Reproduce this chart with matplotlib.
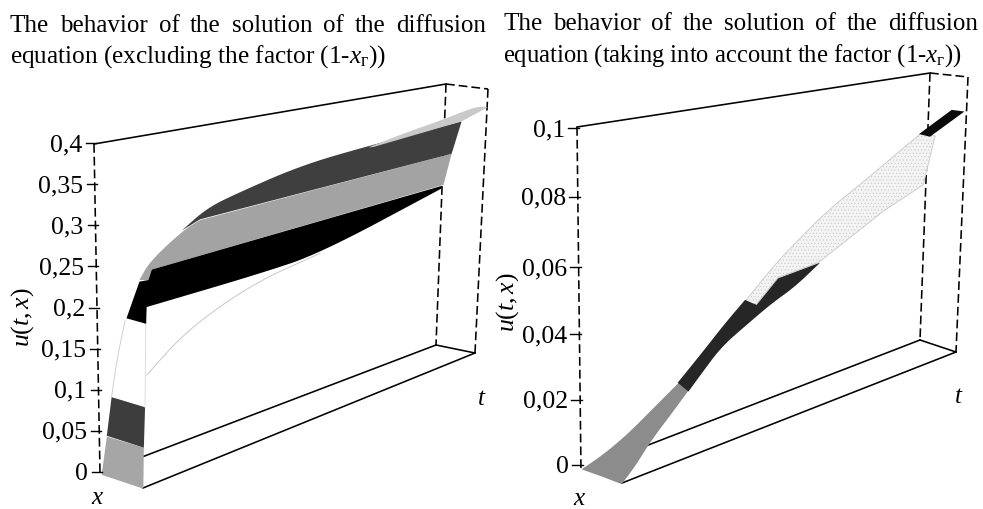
import numpy as np
from matplotlib import pyplot as plt
from matplotlib.patches import Polygon

plt.rcParams['font.family'] = ['Liberation Serif', 'DejaVu Serif']
plt.rcParams['mathtext.fontset'] = 'custom'
plt.rcParams['mathtext.rm'] = 'Liberation Serif'
plt.rcParams['mathtext.it'] = 'Liberation Serif:italic'
plt.rcParams['hatch.linewidth'] = 0.4

# left surface, bands (t, x, u)
l_gray_t = [0.005, 0.022, 0.004, 0.001]
l_gray_x = [0, 0, 1, 1]
l_gray_u = [-0.003, 0.041, 0.048, -0.001]
l_dark_t = [0.022, 0.038, 0.009, 0.004]
l_dark_x = [0, 0, 1, 1]
l_dark_u = [0.042, 0.087, 0.096, 0.048]
l_edge1_t = [0.038, 0.055, 0.081]
l_edge1_x = [0, 0, 0]
l_edge1_u = [0.087, 0.130, 0.176]
l_edge2_t = [0.009, 0.014]
l_edge2_x = [1, 1]
l_edge2_u = [0.096, 0.197]
l_black_t = [0.085, 0.124, 0.150, 0.160, 0.999, 0.878, 0.525, 0.349, 0.017, 0.015]
l_black_x = [0, 0, 0, 0, 0, 1, 1, 1, 1, 1]
l_black_u = [0.178, 0.219, 0.218, 0.230, 0.244, 0.266, 0.221, 0.217, 0.216, 0.196]
l_gray2_t = [0.124, 0.155, 0.252, 0.300, 0.994, 1.004, 0.160, 0.150]
l_gray2_x = [0, 0, 0, 0, .25, 0, 0, 0]
l_gray2_u = [0.221, 0.241, 0.270, 0.278, 0.296, 0.245, 0.230, 0.218]
l_dark2_t = [0.247, 0.319, 0.396, 0.587, 0.778, 0.995, 0.994, 0.300]
l_dark2_x = [0, 0, 0, 0, 0, .45, .25, 0]
l_dark2_u = [0.270, 0.291, 0.301, 0.321, 0.329, 0.347, 0.296, 0.279]
l_light_t = [0.783, 0.873, 0.996, 0.978, 0.979, 1.001, 0.995, 0.797]
l_light_x = [0, 0, 0, .7, 1, 1, .45, 0]
l_light_u = [0.327, 0.336, 0.346, 0.368, 0.376, 0.372, 0.347, 0.326]
l_curve_t = [0.015, 0.134, 0.330, 0.525]
l_curve_x = [1, 1, 1, 1]
l_curve_u = [0.134, 0.173, 0.207, 0.221]

# right surface
r_gray_t = [0.002, 0.071, 0.140, 0.209, 0.287, 0.199, 0.149, 0.089, 0.039, -0.001, 0.001]
r_gray_x = [0, 0, 0, 0, 0, 1, 1, 1, 1, 1, .5]
r_gray_u = [0.0004, 0.0025, 0.0058, 0.0103, 0.0156, 0.0200, 0.0149, 0.0092, 0.0033, -0.0003, 0.0001]
r_dark_t = [0.285, 0.355, 0.423, 0.481, 0.515, 0.577, 0.585, 0.512, 0.444, 0.376, 0.297, 0.238, 0.199]
r_dark_x = [0, 0, 0, 0, 0, 0, 1, 1, 1, 1, 1, 1, 1]
r_dark_u = [0.0158, 0.0225, 0.0296, 0.0352, 0.0324, 0.0391, 0.0472, 0.0417, 0.0386, 0.0346, 0.0300, 0.0238, 0.0197]
r_light_t = [0.483, 0.558, 0.624, 0.719, 0.814, 0.908, 0.978, 0.978, 0.882, 0.772, 0.580, 0.577, 0.510]
r_light_x = [0, 0, 0, 0, 0, 0, 0, .4, 1, 1, 1, 0, 0]
r_light_u = [0.0349, 0.0431, 0.0493, 0.0578, 0.0644, 0.0719, 0.0777, 0.0779, 0.0644, 0.0590, 0.0474, 0.0394, 0.0322]
r_black_t = [0.975, 0.979, 0.994, 0.974]
r_black_x = [0, .8, 1, .3]
r_black_u = [0.0778, 0.0882, 0.0876, 0.0775]

l_ticks = ['0', '0,05', '0,1', '0,15', '0,2', '0,25', '0,3', '0,35', '0,4']
l_tick_vals = [0, 0.05, 0.1, 0.15, 0.2, 0.25, 0.3, 0.35, 0.4]
r_ticks = ['0', '0,02', '0,04', '0,06', '0,08', '0,1']
r_tick_vals = [0.0015, 0.0204, 0.0395, 0.059, 0.0794, 0.0994]  # the printed scale is not quite even

# box corners on the page
l_box = {(0, 0, 0): (100, 473), (0, 1, 0): (143, 488), (1, 0, 0): (436, 345), (1, 1, 0): (475, 353),
         (0, 0, 1): (94, 144), (0, 1, 1): (139, 156), (1, 0, 1): (446, 84), (1, 1, 1): (488, 89)}
r_box = {(0, 0, 0): (581, 471), (0, 1, 0): (622, 483), (1, 0, 0): (920, 340), (1, 1, 0): (956, 352),
         (0, 0, 1): (577, 127), (0, 1, 1): (619, 137), (1, 0, 1): (930, 73), (1, 1, 1): (968, 77)}


def project(box, umax, t, x, u):
    w = u/umax
    px, py = 0, 0
    for (a, b, c), v in box.items():
        k = (t if a else 1-t)*(x if b else 1-x)*(w if c else 1-w)
        px += k*v[0]
        py += k*v[1]
    return px, py


def chaikin(pts, n=3):
    # rounds the corners of a polyline, ends stay put
    pts = np.asarray(pts, dtype=float)
    for _ in range(n):
        new = [pts[0]]
        for p, q in zip(pts[:-1], pts[1:]):
            new += [0.75*p+0.25*q, 0.25*p+0.75*q]
        new.append(pts[-1])
        pts = np.array(new)
    return pts


def band(ax, box, umax, t, x, u, soft=(), **kw):
    pts = [project(box, umax, a, b, c) for a, b, c in zip(t, x, u)]
    out = []
    i = 0
    for a, b in soft:
        out += pts[i:a]
        out += list(chaikin(pts[a:b+1]))
        i = b+1
    out += pts[i:]
    ax.add_patch(Polygon(np.array(out), closed=True, **kw))


def curve(ax, box, umax, t, x, u, **kw):
    pts = chaikin([project(box, umax, a, b, c) for a, b, c in zip(t, x, u)])
    ax.plot(pts[:, 0], pts[:, 1], **kw)


def frame(ax, box, umax, floor_start):
    def p(t, x, w):
        return project(box, umax, t, x, w*umax)

    def seg(a, b, dashed):
        ls = (0, (5.5, 2.5)) if dashed else '-'
        ax.plot([a[0], b[0]], [a[1], b[1]], color='k', lw=1.15, ls=ls, zorder=1)

    seg(p(0, 0, 1), p(1, 0, 1), False)
    seg(p(1, 0, 1), p(1, 1, 1), True)
    seg(p(1, 1, 1), p(1, 1, 0), True)
    seg(p(1, 0, 1), p(1, 0, 0), True)
    seg(p(0, 0, 1), p(0, 0, 0), True)
    seg(p(1, 0, 0), p(1, 1, 0), False)
    seg(p(0, 1, 0), p(1, 1, 0), False)
    seg(p(floor_start, 0, 0), p(1, 0, 0), False)


def yticks(ax, box, umax, vals, labels, length, gap):
    for v, s in zip(vals, labels):
        px, py = project(box, umax, 0, 0, v)
        ax.plot([px-length, px+2], [py-1, py-1], color='k', lw=1.0, zorder=4)
        ax.text(px-length-gap, py+1, s, ha='right', va='center', fontsize=18.5)


def justified(ax, fig, line, x0, x1, y, size):
    words = line.split()
    r = fig.canvas.get_renderer()
    items = [ax.text(0, y, w, fontsize=size, va='baseline', ha='left') for w in words]
    widths = [i.get_window_extent(r).width for i in items]
    space = (x1-x0-sum(widths))/(len(words)-1)
    pos = x0
    for i, w in zip(items, widths):
        i.set_x(pos)
        pos += w+space


fig = plt.figure(figsize=(9.83, 5.09), dpi=100)
ax = fig.add_axes([0, 0, 1, 1])
ax.set_xlim(0, 983)
ax.set_ylim(509, 0)
ax.axis('off')

# left panel
L = (ax, l_box, 0.4)
frame(ax, l_box, 0.4, 0.02)
band(*L, l_gray_t, l_gray_x, l_gray_u, fc='#a6a6a6', ec='none', zorder=2)
band(*L, l_dark_t, l_dark_x, l_dark_u, fc='#3d3d3d', ec='none', zorder=2)
curve(*L, l_edge1_t, l_edge1_x, l_edge1_u, color='#cfcfcf', lw=0.7, zorder=2)
curve(*L, l_edge2_t, l_edge2_x, l_edge2_u, color='#dddddd', lw=0.7, zorder=2)
curve(*L, l_curve_t, l_curve_x, l_curve_u, color='#c8c8c8', lw=0.7, zorder=2)
band(*L, l_gray2_t, l_gray2_x, l_gray2_u, soft=[(0, 3)], fc='#a3a3a3', ec='none', zorder=2)
band(*L, l_dark2_t, l_dark2_x, l_dark2_u, soft=[(0, 5)], fc='#3f3f3f', ec='none', zorder=2)
band(*L, l_black_t, l_black_x, l_black_u, soft=[(5, 8)], fc='#000000', ec='none', zorder=3)
band(*L, l_light_t, l_light_x, l_light_u, soft=[(0, 5)], fc='#c9c9c9', ec='none', zorder=3)
yticks(ax, l_box, 0.4, l_tick_vals, l_ticks, 8, 4)

# right panel
R = (ax, r_box, 0.1)
frame(ax, r_box, 0.1, 0.13)
band(*R, r_gray_t, r_gray_x, r_gray_u, soft=[(0, 4), (5, 9)], fc='#8c8c8c', ec='none', zorder=2)
band(*R, r_light_t, r_light_x, r_light_u, soft=[(0, 6)], fc='#f3f3f3', ec='#c8c8c8', lw=0.6, hatch='.....', zorder=2)
band(*R, r_dark_t, r_dark_x, r_dark_u, soft=[(0, 3), (6, 12)], fc='#262626', ec='none', zorder=3)
band(*R, r_black_t, r_black_x, r_black_u, fc='#0a0a0a', ec='none', zorder=3)
yticks(ax, r_box, 0.1, r_tick_vals, r_ticks, 9, 3)

# axis names
ax.text(23, 317, '$u(t,x)$', rotation=90, ha='center', va='center', fontsize=18.5)
ax.text(98, 498, '$x$', ha='center', va='center', fontsize=18)
ax.text(482, 399, '$t$', ha='center', va='center', fontsize=18)
ax.text(508, 302, '$u(t,x)$', rotation=90, ha='center', va='center', fontsize=18.5)
ax.text(580, 499, '$x$', ha='center', va='center', fontsize=18)
ax.text(959, 397, '$t$', ha='center', va='center', fontsize=18)

# titles
head = 'The behavior of the solution of the diffusion'
justified(ax, fig, head, 10, 486, 32, 18)
justified(ax, fig, head, 503, 978, 30, 18)
ax.text(10, 63, 'equation (excluding the factor (1-$x_{\\mathrm{г}}$))', va='baseline', ha='left', fontsize=18.2)
ax.text(503, 62, 'equation (taking into account the factor (1-$x_{\\mathrm{г}}$))', va='baseline', ha='left', fontsize=17.7)

fig.savefig('out.png', dpi=100)
